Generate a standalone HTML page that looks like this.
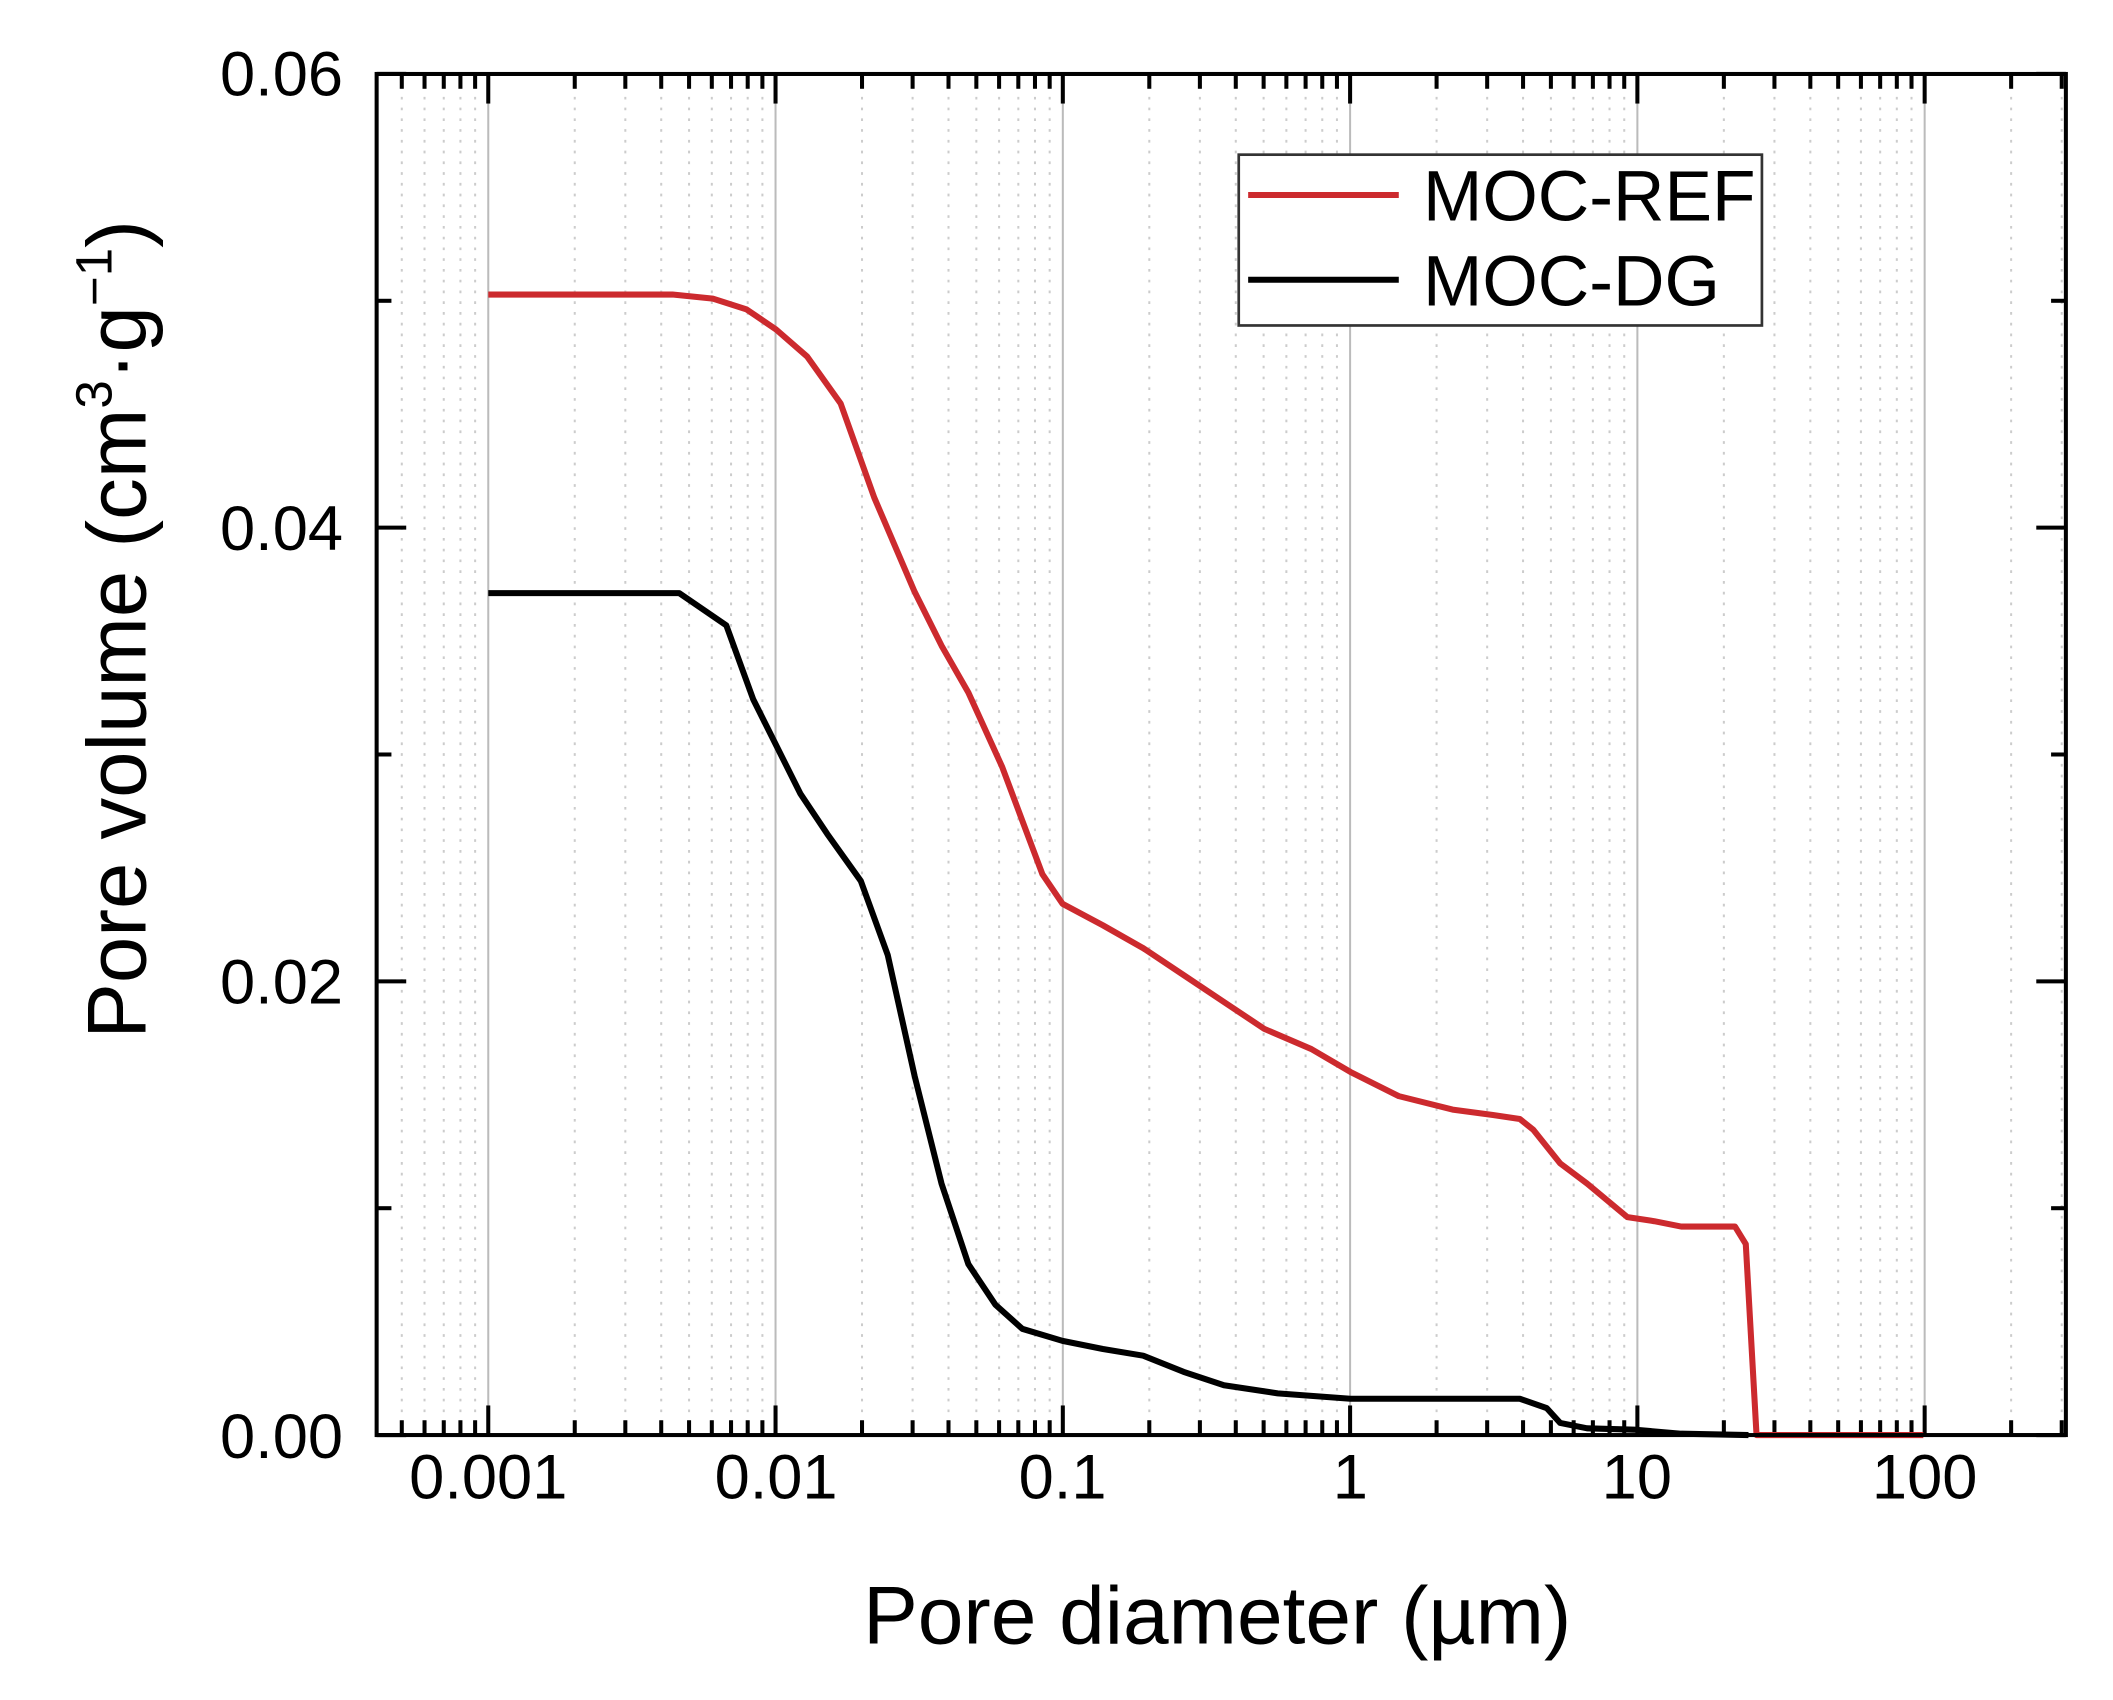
<!DOCTYPE html>
<html><head><meta charset="utf-8"><style>html,body{margin:0;padding:0;background:#fff}svg{display:block}</style></head>
<body>
<svg width="2113" height="1700" viewBox="0 0 1571 1264" xmlns="http://www.w3.org/2000/svg" font-family="Liberation Sans, Arial, sans-serif">
<rect width="1571" height="1264" fill="#fff"/>
<g id="grid"></g>
<g id="ticks"></g>
<polyline fill="none" stroke="#cc2a2e" stroke-width="4.5" stroke-linejoin="round" points="363,219 500,219 530,222 555,230 577,245 600,265 625,300 650,370 680,440 700,480 720,515 745,570 760,610 775,650 790,672 820,688 850,705 880,725 910,745 940,765 975,780 1004,797 1040,815 1080,825 1110,829 1130,832 1140,840 1160,865 1180,880 1210,905 1230,908 1250,912 1290,912 1298,925 1306,1067 1430,1067"/>
<polyline fill="none" stroke="#000" stroke-width="4.5" stroke-linejoin="round" points="363,441 505,441 540,465 560,520 595,590 615,620 640,655 660,710 680,800 700,880 720,940 740,970 760,988 790,997 820,1003 850,1008 880,1020 910,1030 950,1036 1004,1040 1130,1040 1150,1047 1160,1058 1180,1062 1215,1063 1250,1066 1300,1067"/>
<rect x="280" y="55" width="1256" height="1012" fill="none" stroke="#000" stroke-width="3"/>
<g font-size="47" fill="#000">
<text x="255" y="71" text-anchor="end">0.06</text>
<text x="255" y="409" text-anchor="end">0.04</text>
<text x="255" y="746" text-anchor="end">0.02</text>
<text x="255" y="1084" text-anchor="end">0.00</text>
<text x="363" y="1114" text-anchor="middle">0.001</text>
<text x="577" y="1114" text-anchor="middle">0.01</text>
<text x="790" y="1114" text-anchor="middle">0.1</text>
<text x="1004" y="1114" text-anchor="middle">1</text>
<text x="1217" y="1114" text-anchor="middle">10</text>
<text x="1431" y="1114" text-anchor="middle">100</text>
</g>
<text x="905" y="1222" font-size="61" text-anchor="middle">Pore diameter (µm)</text>
<text transform="translate(108,468) rotate(-90)" font-size="62" text-anchor="middle">Pore volume (cm<tspan font-size="38" dy="-25">3</tspan><tspan dy="25">·g</tspan><tspan font-size="38" dy="-25">−1</tspan><tspan dy="25">)</tspan></text>
<rect x="921" y="115" width="389" height="127" fill="#fff" stroke="#333" stroke-width="2"/>
<line x1="928" y1="145" x2="1040" y2="145" stroke="#cc2a2e" stroke-width="4.5"/>
<line x1="928" y1="208" x2="1040" y2="208" stroke="#000" stroke-width="4.5"/>
<text x="1058" y="164" font-size="53">MOC-REF</text>
<text x="1058" y="227" font-size="53">MOC-DG</text>
<script>
(function(){
var ns="http://www.w3.org/2000/svg",g=document.getElementById("grid"),t=document.getElementById("ticks");
function ln(p,x1,y1,x2,y2,s,w,d){var l=document.createElementNS(ns,"line");l.setAttribute("x1",x1);l.setAttribute("y1",y1);l.setAttribute("x2",x2);l.setAttribute("y2",y2);l.setAttribute("stroke",s);l.setAttribute("stroke-width",w);if(d)l.setAttribute("stroke-dasharray",d);p.appendChild(l);}
function X(L){return 363+213.6*(L+3);}
for(var e=-4;e<=2;e++){for(var m=1;m<=9;m++){var x=X(e+Math.log10(m));if(x<281||x>1535)continue;
if(m==1){ln(g,x,56,x,1066,"#bbb",1.5);ln(t,x,1067,x,1045,"#000",3);ln(t,x,55,x,77,"#000",3);}
else{ln(g,x,56,x,1066,"#ccc",1.5,"2,6");ln(t,x,1067,x,1056,"#000",3);ln(t,x,55,x,66,"#000",3);}}}
for(var i=0;i<=6;i++){var y=1067-168.67*i;var len=(i%2==0)?22:11;
ln(t,280,y,280+len,y,"#000",3);ln(t,1536,y,1536-len,y,"#000",3);}
})();
</script>
</svg>
</body></html>
